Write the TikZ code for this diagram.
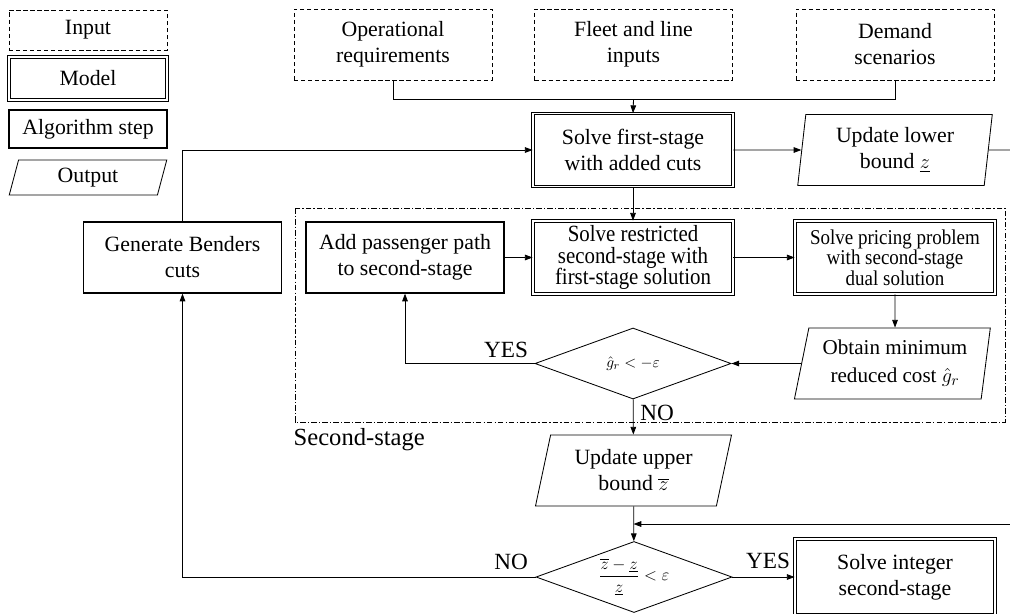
\documentclass[tikz,border=0pt]{standalone}
\usepackage{fontspec}
\setmainfont{Liberation Serif}
\newfontfamily\narrowserif[FakeStretch=0.9]{Liberation Serif}
\usepackage{amsmath}
\usetikzlibrary{shapes.geometric,arrows.meta}

\begin{document}
\begin{tikzpicture}[x=0.025cm, y=-0.025cm,
            every node/.style={align=center, inner sep=1pt, font=\fontsize{15.5}{18.5}\selectfont},
            inbox/.style={draw, line width=0.6pt, dash pattern=on 3pt off 2pt,
                minimum width=4.95cm, minimum height=1.775cm},
            modelbox/.style={draw, double, double distance=1.3pt, line width=0.55pt,
                minimum width=5cm, minimum height=1.825cm},
            stepbox/.style={draw, line width=0.9pt, minimum width=4.95cm, minimum height=1.775cm},
            outbox/.style={draw, trapezium, trapezium stretches=true, line width=0.6pt,
                trapezium left angle=76, trapezium right angle=104,
                minimum width=4.9cm, minimum height=1.775cm},
            decision/.style={draw, diamond, aspect=2.75, inner sep=0pt, line width=0.6pt,
                minimum width=4.9cm, minimum height=1.775cm, font=\fontsize{11}{13}\selectfont},
            answer/.style={font=\fontsize{16.5}{19}\selectfont},
            link/.style={line width=0.6pt},
            flow/.style={line width=0.6pt, -{Triangle[length=5.5pt,width=4pt]}}]
            \useasboundingbox (0,0) rectangle (1010,613);

            % legend
            \node[inbox, minimum width=3.95cm, minimum height=1cm] (keyinput) at (88,30) {Input};
            \node[modelbox, minimum width=3.95cm, minimum height=1.075cm] (keymodel) at (88,78.5) {Model};
            \node[stepbox, minimum width=3.95cm, minimum height=0.95cm] (keystep) at (88,129) {Algorithm step};
            \node[outbox, trapezium left angle=79, trapezium right angle=101,
                minimum width=3.95cm, minimum height=0.875cm] (keyoutput) at (88,177.5) {Output};

            % inputs and first stage
            \node[inbox] (oper) at (393,44.5) {Operational\\requirements};
            \node[inbox] (fleet) at (633.5,44.5) {Fleet and line\\inputs};
            \node[inbox] (demand) at (895,44.5) {Demand\\scenarios};
            \node[modelbox] (first) at (633,150) {Solve first-stage\\with added cuts};
            \node[outbox, trapezium left angle=83.5, trapezium right angle=96.5] (lower) at (895,150)
                {Update lower\\bound $\underline{z}$};
            \node[stepbox] (benders) at (182.5,257.5) {Generate Benders\\cuts};
            \coordinate (edgelow) at (1010,150);

            % second stage
            \draw[line width=0.5pt, dash pattern=on 4pt off 1.5pt on 0.8pt off 1.5pt] (295,208) rectangle (1005,422);
            \node[anchor=west, font=\fontsize{17.5}{20}\selectfont] (stagelabel) at (292,440) {Second-stage};
            \node[stepbox] (add) at (405,257.5) {Add passenger path\\to second-stage};
            \node[modelbox, font=\narrowserif\fontsize{16.5}{15.5}\selectfont] (restr) at (633,257.5)
                {Solve restricted\\second-stage with\\first-stage solution};
            \node[modelbox, font=\narrowserif\fontsize{15}{14.5}\selectfont] (pricing) at (895,257.5)
                {Solve pricing problem\\with second-stage\\dual solution};
            \node[decision] (cond1) at (633,363.5) {$\hat{g}_r < -\varepsilon$};
            \node[outbox, trapezium right angle=99, font=\fontsize{15}{20}\selectfont] (obtain) at (895,363.5)
                {Obtain minimum\\reduced cost $\hat{g}_r$};
            \node[answer] (yes1) at (506,350) {YES};
            \node[answer] (no1) at (657,413) {NO};

            % bounds and stopping test
            \node[outbox] (upper) at (633.5,470.5) {Update upper\\bound $\overline{z}$};
            \node[decision, font=\fontsize{12}{14}\selectfont] (cond2) at (634,577)
                {$\dfrac{\overline{z}-\underline{z}}{\underline{z}} < \varepsilon$};
            \node[modelbox, minimum width=5cm, minimum height=1.9cm] (integer) at (895,577) {Solve integer\\second-stage};
            \node[answer] (no2) at (511,562) {NO};
            \node[answer] (yes2) at (768,561) {YES};
            \coordinate (edgeup) at (1010,524);

            \draw[link] (oper.south) -- ++(0,19) coordinate (join) -| (demand.south);
            \draw[flow] (fleet.south |- join) -- (first.north);
            \draw[flow] (first) -- (lower);
            \draw[link] (lower) -- (edgelow);
            \draw[flow] (benders.north) |- (first.west);
            \draw[flow] (first) -- (restr);
            \draw[flow] (add) -- (restr);
            \draw[flow] (restr) -- (pricing);
            \draw[flow] (pricing) -- (obtain);
            \draw[flow] (obtain) -- (cond1);
            \draw[flow] (cond1.west) -| (add.south);
            \draw[flow] (cond1) -- (upper);
            \draw[flow] (upper) -- (cond2);
            \draw[flow] (edgeup) -- (upper.south |- edgeup);
            \draw[flow] (cond2.west) -| (benders.south);
            \draw[flow] (cond2) -- (integer);
        \end{tikzpicture}
\end{document}
